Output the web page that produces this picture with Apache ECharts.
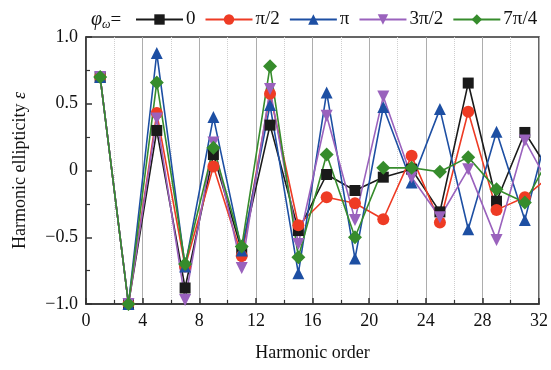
<!DOCTYPE html>
<html>
<head>
<meta charset="utf-8">
<script src="https://cdn.jsdelivr.net/npm/echarts@6/dist/echarts.min.js"></script>
<style>
  html, body { margin: 0; padding: 0; background: #fff; }
  #chart { width: 551px; height: 370px; }
</style>
</head>
<body>
<div id="chart"></div>
<script>
// harmonic orders (33 lies past the axis end, the lines get clipped at 32)
const orders = [1, 3, 5, 7, 9, 11, 13, 15, 17, 19, 21, 23, 25, 27, 29, 31, 33];

const phase0 = [0.70, -1.0, 0.30, -0.88, 0.12, -0.60, 0.34, -0.45, -0.03, -0.15, -0.05, 0.01, -0.31, 0.655, -0.23, 0.285, -0.05];
const phasePi2 = [0.70, -1.0, 0.43, -0.72, 0.03, -0.64, 0.575, -0.41, -0.20, -0.245, -0.365, 0.11, -0.39, 0.44, -0.295, -0.20, -0.02];
const phasePi = [0.70, -1.0, 0.88, -0.72, 0.40, -0.60, 0.49, -0.77, 0.585, -0.66, 0.475, -0.09, 0.46, -0.44, 0.29, -0.37, 0.46];
const phase3Pi2 = [0.70, -1.0, 0.39, -0.97, 0.21, -0.73, 0.61, -0.55, 0.41, -0.37, 0.555, -0.05, -0.35, 0.01, -0.52, 0.225, -0.16];
const phase7Pi4 = [0.70, -1.0, 0.66, -0.70, 0.17, -0.57, 0.78, -0.65, 0.12, -0.50, 0.02, 0.02, -0.01, 0.10, -0.14, -0.24, 0.15];

const names = ['0', 'π/2', 'π', '3π/2', '7π/4'];
const colors = ['#1a1a1a', '#ee3b24', '#1d4fa3', '#9a62bd', '#368c2c'];
const symbols = ['rect', 'circle', 'triangle', 'path://M0,0 L10,0 L5,9 Z', 'diamond'];
const symbolSizes = [11, 12, 12, 12, 14];
const serif = '"Liberation Serif", "DejaVu Serif", serif';

const allData = [phase0, phasePi2, phasePi, phase3Pi2, phase7Pi4];

const chart = echarts.init(document.getElementById('chart'));

const series = allData.map((vals, i) => ({
  name: names[i],
  type: 'line',
  data: orders.map((o, k) => [o, vals[k]]),
  symbol: symbols[i],
  symbolSize: symbolSizes[i],
  clip: true,
  lineStyle: { color: colors[i], width: 1.6 },
  itemStyle: { color: colors[i] },
}));

chart.setOption({
  animation: false,
  textStyle: { fontFamily: serif },
  title: {
    text: '{a|φ}{b|ω}{c|=}',
    left: 86,
    top: 4,
    textStyle: {
      fontWeight: 'normal',
      rich: {
        a: { fontFamily: serif, fontStyle: 'italic', fontWeight: 'normal', fontSize: 20, color: '#111' },
        b: { fontFamily: serif, fontStyle: 'italic', fontWeight: 'normal', fontSize: 12, color: '#111', padding: [10, 0, 0, 0] },
        c: { fontFamily: serif, fontWeight: 'normal', fontSize: 19, color: '#111' }
      }
    }
  },
  legend: {
    left: 130,
    top: 5,
    itemWidth: 47,
    itemHeight: 13,
    itemGap: 9,
    textStyle: { fontFamily: serif, fontSize: 19, color: '#111', padding: [0, 0, 0, -2] },
    data: names
  },
  grid: {
    left: 86,
    right: 11,
    top: 37,
    bottom: 66,
    show: true,
    borderColor: '#333',
    borderWidth: 1.5
  },
  xAxis: {
    type: 'value',
    min: 0,
    max: 32,
    interval: 4,
    name: 'Harmonic order',
    nameLocation: 'middle',
    nameGap: 40,
    nameTextStyle: { fontFamily: serif, fontSize: 18, color: '#111' },
    axisLine: { onZero: false, lineStyle: { color: '#333', width: 1.5 } },
    axisTick: { inside: true, length: 6, lineStyle: { color: '#333', width: 1.5 } },
    minorTick: { show: true, splitNumber: 2, length: 4, lineStyle: { color: '#333', width: 1.2 } },
    axisLabel: { fontFamily: serif, fontSize: 18, color: '#111', margin: 8 },
    splitLine: { show: true, lineStyle: { color: '#adadad', width: 1 } },
    minorSplitLine: { show: true, lineStyle: { color: '#cfcfcf', type: 'dotted', width: 1 } }
  },
  yAxis: {
    type: 'value',
    min: -1,
    max: 1,
    interval: 0.5,
    name: '{n|Harmonic ellipticity }{e|ε}',
    nameLocation: 'middle',
    nameGap: 57,
    nameTextStyle: {
      rich: {
        n: { fontFamily: serif, fontSize: 18, color: '#111' },
        e: { fontFamily: serif, fontSize: 18, fontStyle: 'italic', color: '#111' }
      }
    },
    axisLine: { show: true, onZero: false, lineStyle: { color: '#333', width: 1.5 } },
    axisTick: { show: true, inside: true, length: 6, lineStyle: { color: '#333', width: 1.5 } },
    minorTick: { show: true, splitNumber: 2, length: 4, lineStyle: { color: '#333', width: 1.2 } },
    axisLabel: {
      fontFamily: serif, fontSize: 18, color: '#111', margin: 8,
      formatter: v => v === 0 ? '0' : (v < 0 ? '\u2212' : '') + Math.abs(v).toFixed(1)
    },
    splitLine: { show: false }
  },
  series: series
});
</script>
</body>
</html>
